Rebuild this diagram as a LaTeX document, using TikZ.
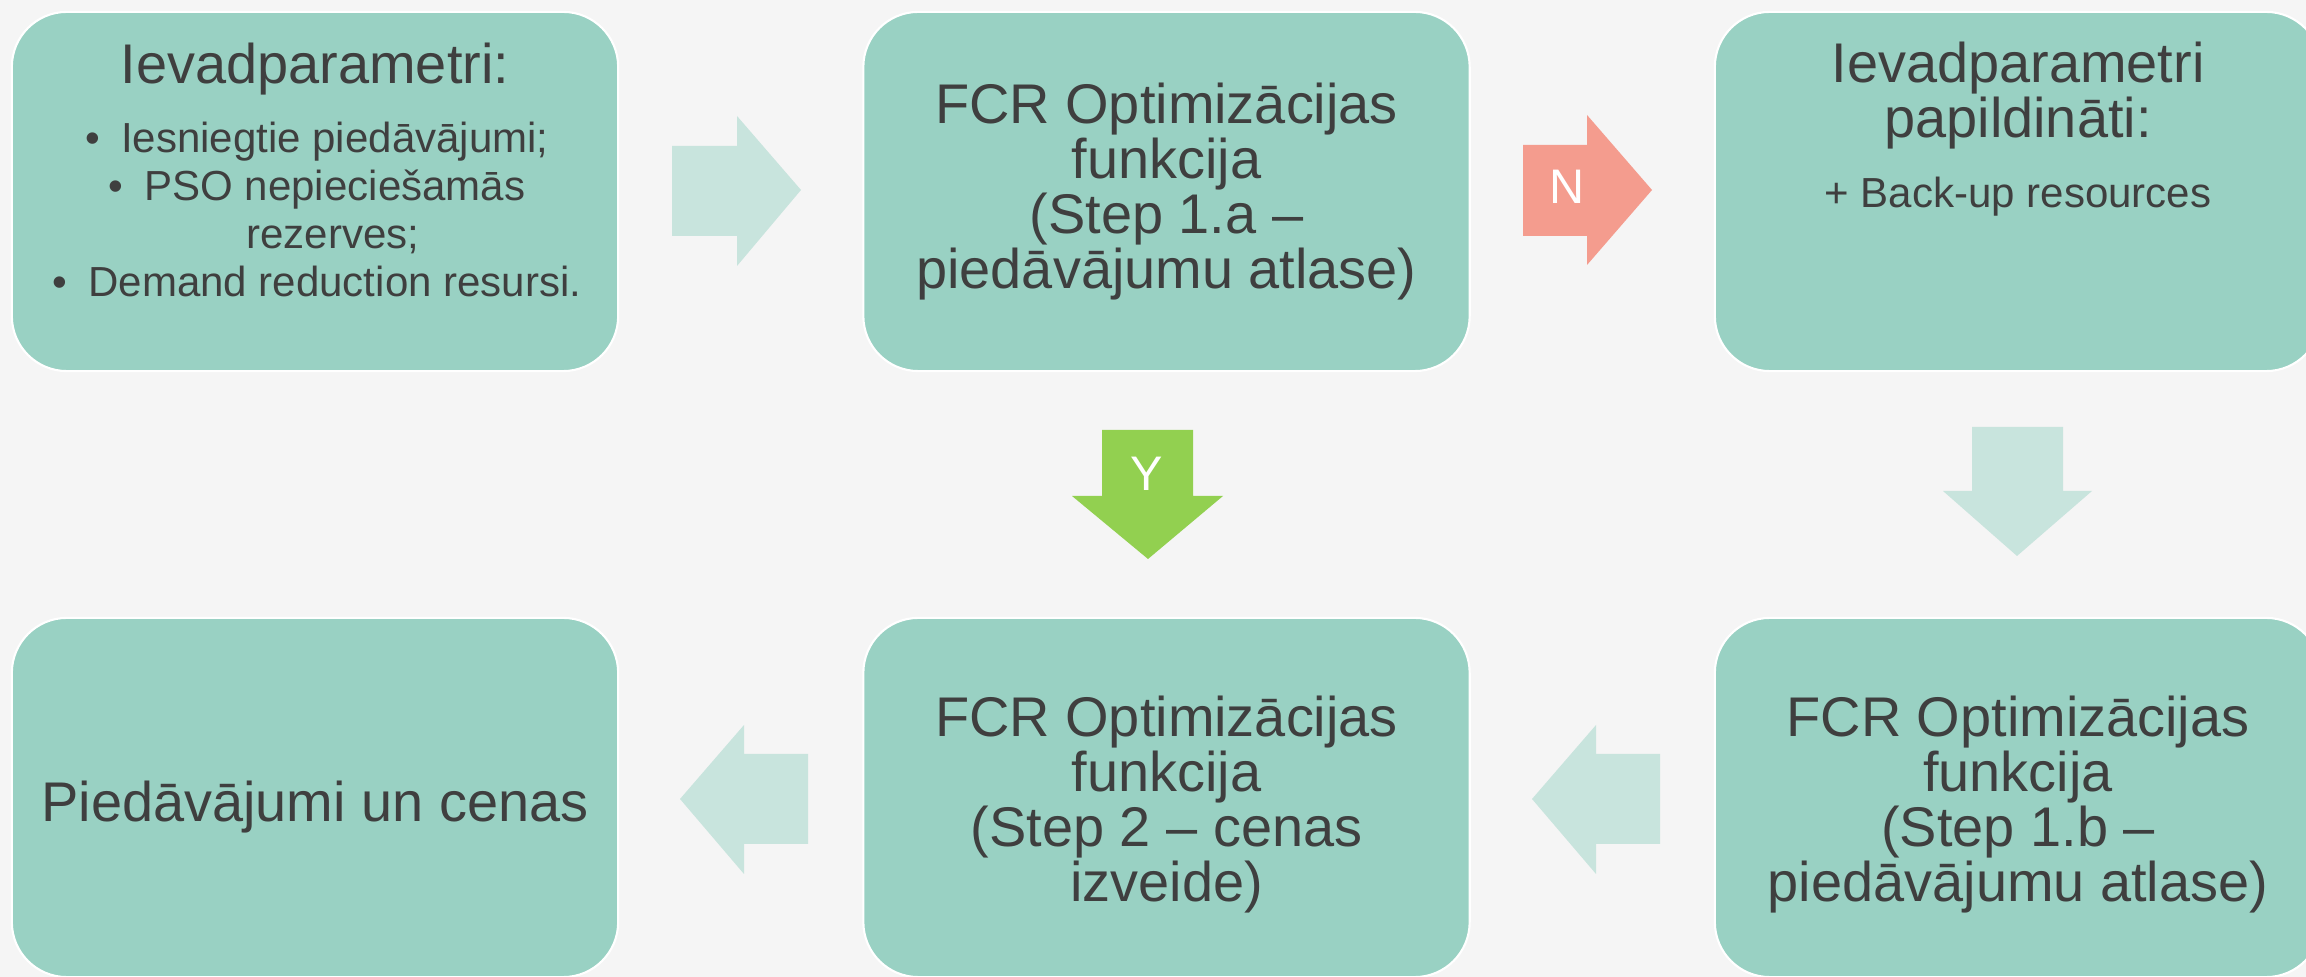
\documentclass[tikz,border=0pt]{standalone}
\usepackage{fontspec}
\setmainfont{Liberation Sans}
\definecolor{boxfill}{HTML}{99D1C3}
\definecolor{lightarrow}{HTML}{C8E4DD}
\definecolor{noarrow}{HTML}{F49C8E}
\definecolor{yesarrow}{HTML}{92D050}
\definecolor{txt}{HTML}{3F3F3F}
\definecolor{bgcol}{HTML}{F5F5F5}
\begin{document}
\begin{tikzpicture}[x=0.01cm,y=-0.01cm,
  stepbox/.style={draw=white, line width=0.6pt, fill=boxfill, rounded corners=0.55cm,
    minimum width=6.06cm, minimum height=3.59cm, inner sep=0pt},
  bigtxt/.style={text=txt, align=center, inner sep=0pt, anchor=base,
    font=\fontsize{15.9pt}{15.7pt}\selectfont},
  smalltxt/.style={text=txt, align=center, inner sep=0pt, anchor=base,
    font=\fontsize{11.95pt}{13.66pt}\selectfont},
  arrowlbl/.style={text=white, inner sep=0pt, font=\fontsize{13.8pt}{15pt}\selectfont}]
\useasboundingbox (0,0) rectangle (2306,977);
\fill[bgcol] (0,0) rectangle (2306,977);

% boxes
\node[stepbox] (b1) at (315,191.5) {};
\node[stepbox] (b2) at (1166.5,191.5) {};
\node[stepbox] (b3) at (2018,191.5) {};
\node[stepbox] (b4) at (315,797.5) {};
\node[stepbox] (b5) at (1166.5,797.5) {};
\node[stepbox] (b6) at (2018,797.5) {};

% texts (base anchor = baseline of the last line)
\node[bigtxt] (t1) at (315,84) {Ievadparametri:};
\node[smalltxt] (t1b) at (317,297) {•\hspace{0.5em}Iesniegtie piedāvājumi;\\
  •\hspace{0.5em}PSO nepiecie\-šamās\\
  \hspace*{0.32cm}rezerves;\\
  •\hspace{0.5em}Demand reduction resursi.};
\node[bigtxt] (t2) at (1166.5,289) {FCR Optimizācijas\\funkcija\\(Step 1.a –\\piedāvājumu atlase)};
\node[bigtxt] (t3) at (2018,138) {Ievadparametri\\papildināti:};
\node[smalltxt] (t3b) at (2018,208) {+ Back-up resources};
\node[bigtxt] (t4) at (315,822) {Piedāvājumi un cenas};
\node[bigtxt] (t5) at (1166.5,902) {FCR Optimizācijas\\funkcija\\(Step 2 – cenas\\izveide)};
\node[bigtxt] (t6) at (2018,902) {FCR Optimizācijas\\funkcija\\(Step 1.b –\\piedāvājumu atlase)};

% block arrows
\fill[lightarrow] (672,146) -- (737,146) -- (737,116) -- (801,190) -- (737,266) -- (737,236) -- (672,236) -- cycle;
\fill[noarrow] (1523,145) -- (1587,145) -- (1587,115) -- (1652,190) -- (1587,265) -- (1587,236) -- (1523,236) -- cycle;
\node[arrowlbl] (nlab) at (1567,187) {N};
\fill[yesarrow] (1102,430) -- (1193,430) -- (1193,496) -- (1223,496) -- (1148,559) -- (1072,496) -- (1102,496) -- cycle;
\node[arrowlbl] (ylab) at (1147,474) {Y};
\fill[lightarrow] (1972,427) -- (2063,427) -- (2063,491) -- (2092,491) -- (2017,556) -- (1943,491) -- (1972,491) -- cycle;
\fill[lightarrow] (1660,754) -- (1596,754) -- (1596,725) -- (1532,799) -- (1596,874) -- (1596,844) -- (1660,844) -- cycle;
\fill[lightarrow] (808,754) -- (744,754) -- (744,725) -- (680,799) -- (744,874) -- (744,844) -- (808,844) -- cycle;
\end{tikzpicture}
\end{document}
